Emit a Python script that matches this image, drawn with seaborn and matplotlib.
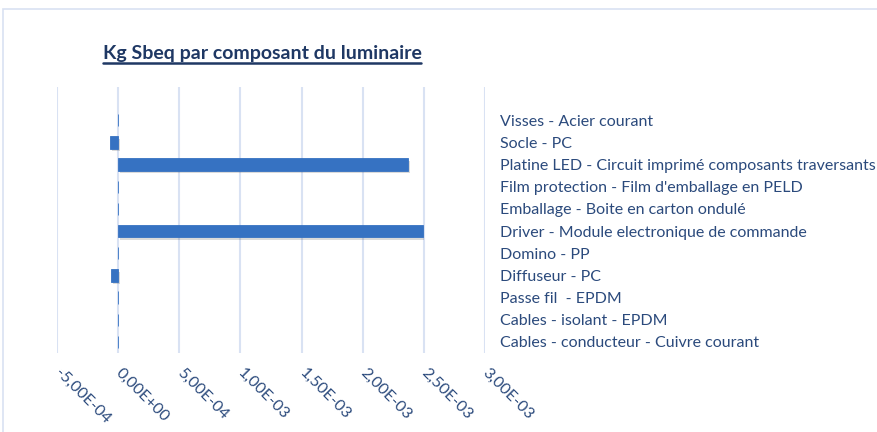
import matplotlib
matplotlib.use('Agg')
import matplotlib.pyplot as plt
import matplotlib.patheffects as pe
from matplotlib.patches import Rectangle
from matplotlib.lines import Line2D
from matplotlib.ticker import FuncFormatter
import seaborn as sns
import pandas as pd

# Composants du luminaire (de haut en bas) et valeurs en kg Sb eq
composants = [
    "Visses - Acier courant",
    "Socle - PC",
    "Platine LED - Circuit imprimé composants traversants",
    "Film protection - Film d'emballage en PELD",
    "Emballage - Boite en carton ondulé",
    "Driver - Module electronique de commande",
    "Domino - PP",
    "Diffuseur - PC",
    "Passe fil  - EPDM",
    "Cables - isolant - EPDM",
    "Cables - conducteur - Cuivre courant",
]
kg_sbeq = [2e-6, -6.6e-5, 2.37e-3, 1e-6, 2e-6, 2.49e-3, 1e-6, -5.7e-5, 1e-6, 1e-6, 2e-6]
x_ticks = [-5e-4, 0.0, 5e-4, 1e-3, 1.5e-3, 2e-3, 2.5e-3, 3e-3]
titre = "Kg Sbeq par composant du luminaire"

sns.set_theme(style='white')
plt.rcParams['font.family'] = ['Lato', 'DejaVu Sans']

df = pd.DataFrame({'composant': composants, 'kg_sbeq': kg_sbeq})

W, H = 877, 432
fig = plt.figure(figsize=(W / 100, H / 100), dpi=100)
ax = fig.add_axes([57 / W, 1 - 353 / H, 428 / W, 266 / H])

bar_color = '#3672C2'
sns.barplot(data=df, x='kg_sbeq', y='composant', order=composants, orient='h',
            color=bar_color, saturation=1, width=0.55, edgecolor=bar_color,
            linewidth=0.6, ax=ax)

# ombre douce sous les barres
for p in ax.patches:
    p.set_path_effects([pe.SimplePatchShadow(offset=(1.2, -1.8), shadow_rgbFace='k', alpha=0.16),
                        pe.Normal()])

ax.set_xlim(x_ticks[0], x_ticks[-1])
ax.set_ylim(len(composants) - 0.5, -1.5)  # une case vide en haut comme dans Excel
ax.set_xticks(x_ticks)
ax.xaxis.set_major_formatter(FuncFormatter(lambda v, p: f"{v:.2E}".replace('.', ',')))
ax.xaxis.grid(True, color='#D9E2F3', linewidth=1.5)
ax.yaxis.grid(False)
ax.set_axisbelow(True)
for s in ax.spines.values():
    s.set_visible(False)
ax.set_xlabel('')
ax.set_ylabel('')

lab_color = '#2B4A7C'
ax.yaxis.tick_right()
ax.tick_params(axis='y', length=0, pad=11, labelsize=11.5, labelcolor=lab_color)
ax.tick_params(axis='x', length=0, pad=13, labelsize=11.5, labelcolor=lab_color)
plt.setp(ax.get_xticklabels(), rotation=-45, ha='left', va='center', rotation_mode='anchor')

# titre souligné
t = fig.text(262 / W, 1 - 53 / H, titre, ha='center', va='center',
             fontsize=14, fontweight='bold', color='#1F3864')
fig.canvas.draw()
bb = t.get_window_extent()
y_line = (bb.y0 - 1) / H
fig.add_artist(Line2D([bb.x0 / W, bb.x1 / W], [y_line, y_line], color='#1F3864',
                      linewidth=1.8, transform=fig.transFigure))

# bordure du graphique
fig.add_artist(Rectangle((3 / W, -0.1), 1.1, 1 - 9 / H + 0.1, transform=fig.transFigure,
                         fill=False, edgecolor='#D9E1F2', linewidth=1.2))

fig.savefig('out.png', dpi=100)
